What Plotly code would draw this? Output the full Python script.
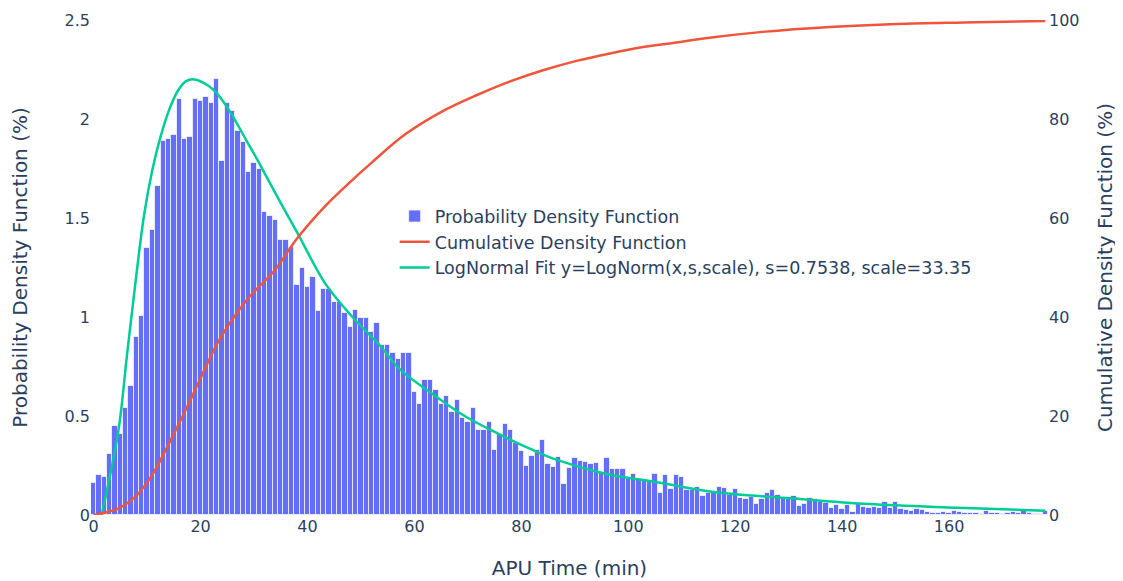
import plotly.graph_objects as go

# ---- data ----
pdf_x = list(range(179))
pdf_values = [
    0.16, 0.20, 0.19, 0.31, 0.45, 0.41, 0.54, 0.65, 0.90, 1.005,
    1.35, 1.44, 1.66, 1.89, 1.90, 1.92, 2.10, 1.90, 1.91, 2.10,
    2.09, 2.11, 2.08, 2.20, 1.79, 2.08, 2.04, 1.94, 1.885, 1.73,
    1.78, 1.75, 1.53, 1.51, 1.49, 1.39, 1.39, 1.355, 1.16, 1.25,
    1.15, 1.20, 1.03, 1.14, 1.14, 1.076, 1.076, 1.02, 0.95, 1.035,
    0.997, 0.997, 0.926, 0.97, 0.86, 0.86, 0.82, 0.79, 0.82, 0.82,
    0.62, 0.56, 0.68, 0.68, 0.63, 0.56, 0.60, 0.52, 0.58, 0.49,
    0.47, 0.54, 0.43, 0.43, 0.47, 0.33, 0.41, 0.46, 0.43, 0.365,
    0.325, 0.25, 0.30, 0.327, 0.377, 0.26, 0.244, 0.294, 0.157, 0.236,
    0.29, 0.274, 0.27, 0.258, 0.264, 0.219, 0.286, 0.23, 0.23, 0.232,
    0.18, 0.207, 0.177, 0.172, 0.165, 0.205, 0.11, 0.202, 0.131, 0.202,
    0.194, 0.126, 0.126, 0.14, 0.096, 0.11, 0.11, 0.14, 0.135, 0.10,
    0.13, 0.088, 0.083, 0.089, 0.057, 0.081, 0.11, 0.126, 0.10, 0.083,
    0.083, 0.098, 0.045, 0.054, 0.084, 0.081, 0.067, 0.062, 0.034, 0.05,
    0.032, 0.049, 0.017, 0.062, 0.039, 0.036, 0.042, 0.037, 0.064, 0.034,
    0.067, 0.029, 0.025, 0.02, 0.029, 0.025, 0.017, 0.012, 0.012, 0.017,
    0.012, 0.02, 0.017, 0.012, 0.008, 0.008, 0.005, 0.02, 0.012, 0.008,
    0.005, 0.012, 0.013, 0.008, 0.022, 0.012, 0.005, 0.005, 0.022,
]

cdf_x = [0, 4.65, 7.8, 10.95, 14.1, 17.2, 20.4, 23.5, 28.6, 33.9, 38.0, 43.3,
         47.7, 52.1, 58.4, 65.3, 71.6, 77.9, 84.2, 90.5, 96.8, 103.1, 109.4,
         114.4, 125.1, 137.7, 150.3, 162.8, 178]
cdf_values = [0, 1.35, 3.7, 8.1, 14.5, 21.2, 28.6, 35.4, 43.4, 49.5, 55.8, 62.4,
              67.0, 71.3, 77.0, 81.6, 84.8, 87.6, 89.9, 91.8, 93.3, 94.6, 95.5,
              96.3, 97.6, 98.6, 99.2, 99.5, 99.8]

fit_x = [1.5, 4.65, 6.2, 7.8, 9.4, 10.95, 12.5, 14.1, 15.7, 17.2, 18.8, 20.4,
         22.3, 24.2, 26.0, 28.6, 30.5, 32.3, 35.0, 38.0, 43.3, 48.4, 53.4, 57.5,
         63.2, 69.4, 75.7, 82.0, 86.5, 95.5, 104.9, 116.0, 130.4, 145.0, 161.6, 178]
fit_values = [0.0, 0.43, 0.80, 1.17, 1.51, 1.74, 1.91, 2.045, 2.14, 2.19, 2.20,
              2.185, 2.15, 2.09, 2.015, 1.89, 1.80, 1.71, 1.575, 1.43, 1.17, 1.00,
              0.86, 0.73, 0.615, 0.50, 0.41, 0.33, 0.28, 0.21, 0.168, 0.116, 0.084,
              0.055, 0.037, 0.022]

pdf_name = "Probability Density Function"
cdf_name = "Cumulative Density Function"
fit_name = "LogNormal Fit y=LogNorm(x,s,scale), s=0.7538, scale=33.35"

left_ticks = [0, 0.5, 1, 1.5, 2, 2.5]
right_ticks = [0, 20, 40, 60, 80, 100]
x_ticks = [0, 20, 40, 60, 80, 100, 120, 140, 160]

FONT = "DejaVu Sans, Verdana, sans-serif"
TXT = "#2a3f5f"

fig = go.Figure()
fig.add_trace(go.Bar(
    x=pdf_x, y=pdf_values, name=pdf_name,
    marker=dict(color="#636efa", line=dict(color="rgba(255,255,255,0.7)", width=1)),
    yaxis="y",
))
fig.add_trace(go.Scatter(
    x=cdf_x, y=cdf_values, name=cdf_name, mode="lines",
    line=dict(color="#EF553B", width=2.5, shape="spline"),
    yaxis="y2",
))
fig.add_trace(go.Scatter(
    x=fit_x, y=fit_values, name=fit_name, mode="lines",
    line=dict(color="#00cc96", width=2.5, shape="spline"),
    yaxis="y",
))

fig.update_layout(
    width=1115, height=573,
    margin=dict(l=83, r=75, t=12, b=66),
    paper_bgcolor="white", plot_bgcolor="white",
    font=dict(family=FONT, size=16, color=TXT),
    bargap=0,
    showlegend=True,
    legend=dict(x=0.3173, y=0.64, xanchor="left", yanchor="top",
                bgcolor="rgba(0,0,0,0)", font=dict(size=17.5, color=TXT)),
    xaxis=dict(
        title=dict(text="APU Time (min)", font=dict(size=20), standoff=25),
        range=[-0.5, 178.5], tickvals=x_ticks, showgrid=False, zeroline=False,
        showline=False, ticks="", automargin=False,
    ),
    yaxis=dict(
        title=dict(text="Probability Density Function (%)", font=dict(size=20),
                   standoff=44),
        range=[0, 2.5], tickvals=left_ticks, showgrid=False, zeroline=False,
        showline=False, ticks="", automargin=False,
    ),
    yaxis2=dict(
        title=dict(text="Cumulative Density Function (%)", font=dict(size=20),
                   standoff=19),
        range=[0, 100], tickvals=right_ticks, overlaying="y", side="right",
        showgrid=False, zeroline=False, showline=False, ticks="", automargin=False,
    ),
)

fig.write_html("out.html", config={"displayModeBar": False})
